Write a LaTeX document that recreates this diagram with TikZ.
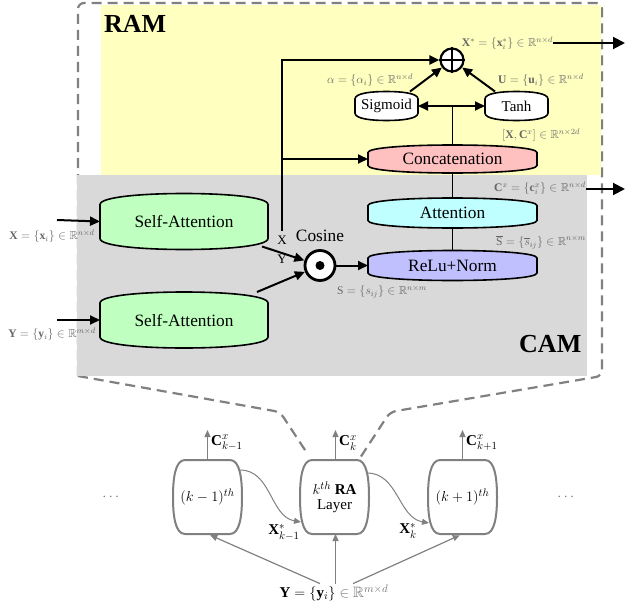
\documentclass[tikz,border=0pt]{standalone}
\usepackage{amsmath,amssymb}
\usepackage{fontspec}
\setmainfont{Liberation Serif}
\usetikzlibrary{arrows.meta,calc}

\definecolor{ramyellow}{RGB}{255,255,192}
\definecolor{camgray}{RGB}{217,217,217}
\definecolor{sagreen}{RGB}{191,255,191}
\definecolor{conpink}{RGB}{255,192,192}
\definecolor{attcyan}{RGB}{192,255,255}
\definecolor{relublue}{RGB}{192,192,255}

% shape with curved top and bottom: #1 opts, #2 cx, #3 cy, #4 W, #5 C (corner level), #6 V (bulge), #7 r
\newcommand{\vshape}[7]{%
\begin{scope}[shift={(#2,#3)}]
\pgfmathsetmacro{\sW}{#4}\pgfmathsetmacro{\sP}{#5+#6}%
\pgfmathsetmacro{\sQ}{#5+0.3*#6}\pgfmathsetmacro{\sS}{#5-#7}\pgfmathsetmacro{\sM}{#4/2}%
\draw[#1] (-\sW,-\sS) .. controls (-\sW,-\sQ) and (-\sM,-\sP) .. (0,-\sP)
 .. controls (\sM,-\sP) and (\sW,-\sQ) .. (\sW,-\sS) -- (\sW,\sS)
 .. controls (\sW,\sQ) and (\sM,\sP) .. (0,\sP)
 .. controls (-\sM,\sP) and (-\sW,\sQ) .. (-\sW,\sS) -- cycle;
\end{scope}}

% shape with curved sides: #1 opts, #2 cx, #3 cy, #4 W (corner x), #5 H, #6 B (bulge), #7 r
\newcommand{\hshape}[7]{%
\begin{scope}[shift={(#2,#3)}]
\pgfmathsetmacro{\sA}{#4-#7}\pgfmathsetmacro{\sH}{#5}%
\pgfmathsetmacro{\sP}{#4+#6}\pgfmathsetmacro{\sQ}{#4+0.3*#6}\pgfmathsetmacro{\sM}{#5/2}%
\draw[#1] (-\sA,-\sH) -- (\sA,-\sH) .. controls (\sQ,-\sH) and (\sP,-\sM) .. (\sP,0)
 .. controls (\sP,\sM) and (\sQ,\sH) .. (\sA,\sH) -- (-\sA,\sH)
 .. controls (-\sQ,\sH) and (-\sP,\sM) .. (-\sP,0)
 .. controls (-\sP,-\sM) and (-\sQ,-\sH) .. (-\sA,-\sH) -- cycle;
\end{scope}}

\tikzset{
 arr/.style={line width=2pt, -{Triangle[length=10pt,width=9pt]}},
 bigarr/.style={line width=2pt, -{Triangle[length=12pt,width=12pt]}},
 blk/.style={line width=1.5pt},
 boxline/.style={line width=1.6pt, draw=black},
 lbl/.style={text=black!60, font=\fontsize{11.6}{14}\selectfont, inner sep=0pt},
 maintxt/.style={font=\fontsize{17.3}{20}\selectfont, inner sep=0pt},
 smalltxt/.style={font=\fontsize{15}{17}\selectfont, inner sep=0pt},
 garr/.style={draw=black!50, line width=1.2pt, -{Triangle[length=7pt,width=6pt]}},
 gbox/.style={draw=black!50, line width=2pt, fill=white},
 holder/.style={inner sep=0pt, outer sep=0pt},
}

\begin{document}
\begin{tikzpicture}[x=1pt,y=-1pt]
\useasboundingbox (0,0) rectangle (626,610);

% dashed outline
\draw[draw=black!50, line width=2.2pt, dash pattern=on 10pt off 6pt, rounded corners=6pt]
  (78,376) -- (78,3) -- (602,3) -- (602,376) -- (390,412) -- (360,458);
\draw[draw=black!50, line width=2.2pt, dash pattern=on 10pt off 6pt, rounded corners=6pt]
  (78,376) -- (280,412) -- (307,453);

% regions
\fill[ramyellow] (101,5) rectangle (601,175);
\fill[camgray] (77,175) rectangle (587,376);
\node[font=\bfseries\fontsize{26}{28}\selectfont, anchor=base west, inner sep=0pt] (ram) at (104,33) {RAM};
\node[font=\bfseries\fontsize{26}{28}\selectfont, anchor=base west, inner sep=0pt] (cam) at (519,352) {CAM};

% shapes
\vshape{boxline, fill=sagreen}{184}{221.5}{84}{23}{5}{6}
\node[holder, minimum width=168pt, minimum height=56pt, maintxt] (sa1) at (184,221.5) {Self-Attention};
\vshape{boxline, fill=sagreen}{184}{320}{84}{23}{5}{6}
\node[holder, minimum width=168pt, minimum height=56pt, maintxt] (sa2) at (184,320) {Self-Attention};

\vshape{boxline, fill=conpink}{452.5}{159}{84.5}{10.5}{3.5}{4}
\node[holder, minimum width=169pt, minimum height=28pt, maintxt] (conc) at (452.5,159) {Concatenation};
\vshape{boxline, fill=attcyan}{452.5}{213}{84.5}{11.5}{3.5}{4}
\node[holder, minimum width=169pt, minimum height=30pt] (att) at (452.5,213) {};
\node[maintxt] (atttxt) at (452.5,213) {Attention};
\vshape{boxline, fill=relublue}{452.5}{265.5}{84.5}{11.5}{3.5}{4}
\node[holder, minimum width=169pt, minimum height=30pt, maintxt] (relu) at (452.5,265.5) {ReLu+Norm};

\vshape{boxline, fill=white}{386.5}{106}{31.5}{12}{2.5}{5}
\node[holder, minimum width=63pt, minimum height=29pt, smalltxt] (sig) at (386.5,106) {Sigmoid};
\vshape{boxline, fill=white}{516.5}{106}{31.5}{12}{2.5}{5}
\node[holder, minimum width=63pt, minimum height=29pt, smalltxt] (tanh) at (516.5,106) {Tanh};

% circles
\node[circle, draw, line width=2.2pt, minimum size=23pt, inner sep=0pt, fill=white] (plus) at (452,60) {};
\draw[line width=2.4pt] (plus.north) -- (plus.south) (plus.west) -- (plus.east);
\node[circle, draw, line width=2.8pt, minimum size=30pt, inner sep=0pt, fill=white] (cos) at (320,265.5) {};
\fill (cos.center) circle (4.5pt);
\node[maintxt] (coslbl) at (320,236) {Cosine};
\node[font=\fontsize{13}{15}\selectfont, inner sep=0pt] (xl) at (282,240) {X};
\node[font=\fontsize{13}{15}\selectfont, inner sep=0pt] (yl) at (282,259) {Y};

% inputs
\coordinate (xin) at (57,220);
\coordinate (yin) at (57,320);
\draw[arr] (xin) -- (sa1.west);
\draw[arr] (yin) -- (sa2.west);
\node[lbl] (xinl) at (52,236) {$\mathbf{X}=\{\mathbf{x}_i\}\in\mathbb{R}^{n\times d}$};
\node[lbl] (yinl) at (52,334) {$\mathbf{Y}=\{\mathbf{y}_i\}\in\mathbb{R}^{m\times d}$};

\draw[arr] ([xshift=-6pt,yshift=3pt]sa1.south east) -- (cos);
\draw[arr] ([xshift=-11pt]sa2.north east) -- (cos);
\draw[arr] (cos) -- (relu);

% X branch
\coordinate (xs) at (282,231);
\draw[arr] (xs) |- (plus);
\draw[arr] (xs |- conc) -- (conc.west);

% internal lines
\draw[blk] (relu) -- (att);
\draw[blk] (att) -- (conc);
\draw[blk] (conc.north) -- (conc.north |- sig.east);
\draw[line width=2pt, {Triangle[length=10pt,width=9pt]}-{Triangle[length=10pt,width=9pt]}] (sig.east) -- (tanh.west);
\draw[arr] ([xshift=-8pt]sig.north east) -- (plus);
\draw[arr] ([xshift=10pt]tanh.north west) -- (plus);

% labels
\node[lbl] (xstar) at (507.5,43) {$\mathbf{X}^*=\{\mathbf{x}^*_i\}\in\mathbb{R}^{n\times d}$};
\coordinate (xout) at (625,43);
\draw[bigarr] (xstar.east) -- (xout);
\node[lbl] (alab) at (370,80) {$\alpha=\{\alpha_i\}\in\mathbb{R}^{n\times d}$};
\node[lbl] (ulab) at (541,80) {$\mathbf{U}=\{\mathbf{u}_i\}\in\mathbb{R}^{n\times d}$};
\node[lbl] (xclab) at (541,135) {$[\mathbf{X},\mathbf{C}^x]\in\mathbb{R}^{n\times 2d}$};
\node[lbl] (cx) at (540,188) {$\mathbf{C}^x=\{\mathbf{c}^x_i\}\in\mathbb{R}^{n\times d}$};
\coordinate (cout) at (625,189);
\draw[bigarr] (cx.east |- cout) -- (cout);
\node[lbl] (sblab) at (541,242) {$\overline{\mathrm{S}}=\{\overline{s}_{ij}\}\in\mathbb{R}^{n\times m}$};
\node[lbl] (slab) at (382,292) {$\mathrm{S}=\{s_{ij}\}\in\mathbb{R}^{n\times m}$};

% bottom layers
\hshape{gbox}{207.5}{497}{31.5}{37}{3}{9}
\node[holder, minimum width=69pt, minimum height=74pt, smalltxt] (bkm1) at (207.5,497) {$(k-1)^{th}$};
\hshape{gbox}{334.5}{497}{31.5}{37}{3}{9}
\node[holder, minimum width=69pt, minimum height=74pt, smalltxt, align=center] (bk) at (334.5,497) {$k^{th}$ \textbf{RA}\\[-2pt]Layer};
\hshape{gbox}{462.5}{497}{31.5}{37}{3}{9}
\node[holder, minimum width=69pt, minimum height=74pt, smalltxt] (bkp1) at (462.5,497) {$(k+1)^{th}$};

\coordinate (ckm1) at (207.5,430);
\coordinate (ck) at (335.5,430);
\coordinate (ckp1) at (462.5,430);
\draw[garr] (bkm1.north) -- (ckm1);
\draw[garr] (bk.north -| ck) -- (ck);
\draw[garr] (bkp1.north) -- (ckp1);
\node[smalltxt, anchor=west] (ckm1l) at (211,443) {$\mathbf{C}^x_{k-1}$};
\node[smalltxt, anchor=west] (ckl) at (339,443) {$\mathbf{C}^x_{k}$};
\node[smalltxt, anchor=west] (ckp1l) at (466,443) {$\mathbf{C}^x_{k+1}$};

\draw[garr, line width=1pt] ([yshift=27pt,xshift=-2pt]bkm1.east) to[out=0,in=170] ([yshift=-25pt,xshift=1pt]bk.west);
\draw[garr, line width=1pt] ([yshift=24pt,xshift=-2pt]bk.east) to[out=0,in=170] ([yshift=-26pt,xshift=1pt]bkp1.west);
\node[smalltxt] (xkm1) at (284,532) {$\mathbf{X}^*_{k-1}$};
\node[smalltxt] (xk) at (408,531) {$\mathbf{X}^*_{k}$};

\node[smalltxt, inner sep=1pt] (ybot) at (334,593) {$\mathbf{Y}=\{\mathbf{y}_i\}\textcolor{black!55}{{}\in\mathbb{R}^{m\times d}}$};
\draw[garr] (ybot.north -| ck) -- (bk.south -| ck);
\draw[garr, shorten >=3pt] ([xshift=-14pt]ybot.north) -- (bkm1.south);
\draw[garr, shorten >=3pt] ([xshift=19pt]ybot.north) -- (bkp1.south);

\node[smalltxt, text=black!55] (dl) at (112,497) {$\cdots$};
\node[smalltxt, text=black!55] (dr) at (567,497) {$\cdots$};
\end{tikzpicture}
\end{document}
